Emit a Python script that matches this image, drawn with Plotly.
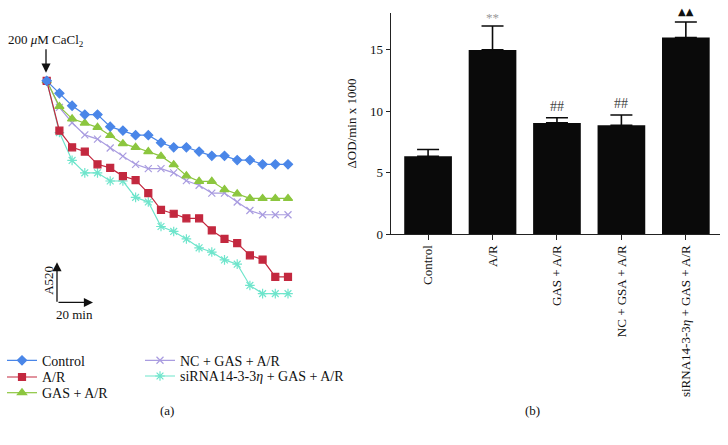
import plotly.graph_objects as go

W, H = 728, 445
def px(x): return x / W
def py(y): return 1 - y / H

# ---- Panel (a) data: relative A520 (arbitrary units) at 20 time points
time_idx = list(range(20))
control = [6.53, 6.15, 5.77, 5.50, 5.50, 5.13, 5.01, 4.87, 4.87, 4.64, 4.50, 4.50, 4.37, 4.24, 4.24, 4.11, 4.11, 3.98, 3.98, 3.98]
ar      = [6.53, 5.01, 4.50, 4.37, 3.98, 3.87, 3.62, 3.50, 3.10, 2.59, 2.47, 2.33, 2.33, 1.96, 1.70, 1.57, 1.20, 1.07, 0.54, 0.54]
gas_ar  = [6.53, 5.75, 5.37, 5.24, 5.11, 4.86, 4.61, 4.50, 4.37, 4.23, 3.97, 3.63, 3.46, 3.46, 3.21, 3.08, 2.94, 2.94, 2.94, 2.94]
nc_gas  = [6.53, 5.72, 5.25, 4.88, 4.75, 4.48, 4.23, 3.98, 3.85, 3.85, 3.72, 3.48, 3.34, 3.10, 3.10, 2.83, 2.57, 2.44, 2.44, 2.44]
si_gas  = [6.53, 4.95, 4.10, 3.72, 3.72, 3.47, 3.47, 2.97, 2.83, 2.08, 1.93, 1.70, 1.43, 1.30, 1.06, 0.93, 0.28, 0.03, 0.03, 0.03]

# ---- Panel (b) data
bar_cats = ["Control", "A/R", "GAS + A/R", "NC + GSA + A/R", "siRNA14-3-3η + GAS + A/R"]
bar_labels = ["Control", "A/R", "GAS + A/R", "NC + GSA + A/R", "siRNA14-3-3<i>η</i> + GAS + A/R"]
bar_vals = [6.33, 15.0, 9.05, 8.86, 16.0]
bar_err = [0.55, 1.94, 0.42, 0.83, 1.27]
bar_marks = ["", "**", "##", "##", "▲▲"]
mark_colors = ["#666", "#999", "#444", "#444", "#111"]
mark_sizes = [13, 13, 14, 14, 10]
mark_shift = [0, -1, 2, 2, 3]

FONT = "Liberation Serif"
fig = go.Figure()

# name, values, colour, symbol, size, legend id
series = [
    ("siRNA14-3-3<i>η</i> + GAS + A/R", si_gas, "#6fe5cc", "asterisk-open", 8, "legend5"),
    ("NC + GAS + A/R", nc_gas, "#a99ce0", "x-thin-open", 7, "legend4"),
    ("GAS + A/R", gas_ar, "#8cc63f", "triangle-up", 8, "legend3"),
    ("A/R", ar, "#c3283f", "square", 7, "legend2"),
    ("Control", control, "#4a86e8", "diamond", 7, "legend"),
]
for name, vals, col, sym, size, lg in series:
    fig.add_trace(go.Scatter(
        x=time_idx, y=vals, mode="lines+markers", name=name,
        line=dict(color=col, width=1.2),
        marker=dict(symbol=sym, size=size, color=col, line=dict(color=col, width=1.2)),
        xaxis="x", yaxis="y", legend=lg, cliponaxis=False))

fig.add_trace(go.Bar(
    x=bar_cats, y=bar_vals, width=0.74, marker=dict(color="#0a0a0a", line=dict(width=0)),
    error_y=dict(type="data", array=bar_err, symmetric=False, arrayminus=[0]*5,
                 color="#0a0a0a", thickness=1.6, width=11),
    xaxis="x2", yaxis="y2", showlegend=False))

annotations = []
for c, v, e, m, mc, ms, sh in zip(bar_cats, bar_vals, bar_err, bar_marks, mark_colors, mark_sizes, mark_shift):
    if m:
        annotations.append(dict(x=c, y=v + e, xref="x2", yref="y2", text=m, showarrow=False,
                                xanchor="center", yanchor="bottom", yshift=sh,
                                font=dict(family=FONT if m != "▲▲" else "DejaVu Sans", size=ms, color=mc)))

def pa(x, y, text, **kw):
    d = dict(x=px(x), y=py(y), xref="paper", yref="paper", text=text, showarrow=False,
             xanchor="center", yanchor="middle", font=dict(family=FONT, size=13, color="#111"))
    d.update(kw)
    return d

def arrow(x, y, ax, ay):
    return dict(x=px(x), y=py(y), xref="paper", yref="paper", text="", showarrow=True,
                ax=ax, ay=ay, arrowhead=2, arrowsize=1.4, arrowwidth=1.3, arrowcolor="#111")

annotations += [
    pa(46, 41, "200 <i>μ</i>M CaCl<sub>2</sub>"),
    arrow(46, 74, 0, -25),
    arrow(57, 267, 0, 41),
    arrow(93, 308, -36, 0),
    pa(49, 286, "A520", textangle=-90),
    pa(74, 320, "20 min"),
    pa(167, 418, "(a)"),
    pa(532, 418, "(b)"),
]

def leg(x, yc):
    return dict(x=px(x), y=py(yc - 9), xanchor="left", yanchor="top",
                bgcolor="rgba(0,0,0,0)", itemwidth=30,
                font=dict(family=FONT, size=14, color="#111"))

fig.update_layout(
    width=W, height=H, autosize=False,
    margin=dict(l=0, r=0, t=0, b=0),
    paper_bgcolor="white", plot_bgcolor="white",
    font=dict(family=FONT, size=13, color="#111"),
    xaxis=dict(domain=[px(46.7), px(288)], range=[0, 19], visible=False, fixedrange=True),
    yaxis=dict(domain=[py(320), py(60)], range=[-0.6, 7.2], visible=False, fixedrange=True),
    xaxis2=dict(domain=[px(390.7), px(720)], anchor="y2", range=[-0.58, 4.53],
                type="category", tickmode="array", tickvals=bar_cats, ticktext=bar_labels,
                tickangle=-90, ticks="outside", ticklen=5, tickcolor="#222",
                showline=True, linecolor="#222", linewidth=1, showgrid=False,
                tickfont=dict(family=FONT, size=13, color="#111")),
    yaxis2=dict(domain=[py(238.3), py(13.3)], anchor="x2", range=[0, 18],
                tickvals=[0, 5, 10, 15], ticks="outside", ticklen=4, tickcolor="#222",
                showline=True, linecolor="#222", linewidth=1, showgrid=False, zeroline=False,
                title=dict(text="ΔOD/min x 1000", standoff=10,
                           font=dict(family=FONT, size=13, color="#111")),
                tickfont=dict(family=FONT, size=13, color="#111")),
    legend=leg(2, 360),
    legend2=leg(2, 377),
    legend3=leg(2, 393),
    legend4=leg(140, 360),
    legend5=leg(140, 376),
    annotations=annotations,
    showlegend=True,
)

fig.write_html("out.html", config={"displayModeBar": False},
               post_script="document.body.style.margin='0px';")
